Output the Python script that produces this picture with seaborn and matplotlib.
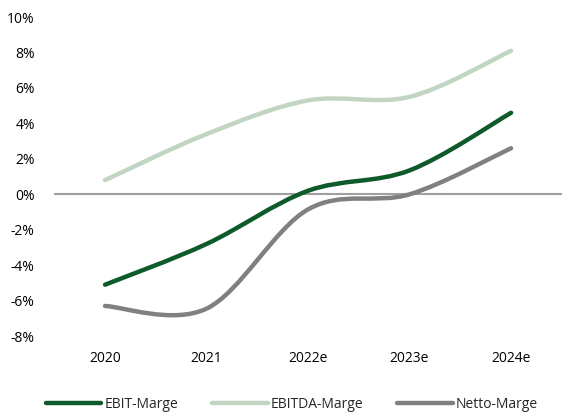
import numpy as np
import seaborn as sns
import matplotlib.pyplot as plt
from matplotlib.path import Path
from matplotlib.patches import PathPatch
from matplotlib.lines import Line2D
from matplotlib.ticker import FuncFormatter

# ── data ─────────────────────────────────────────────
years = ["2020", "2021", "2022e", "2023e", "2024e"]
ebit = [-5.1, -2.8, 0.2, 1.35, 4.6]
ebitda = [0.8, 3.4, 5.3, 5.5, 8.1]
netto = [-6.3, -6.45, -0.85, 0.0, 2.6]
series_names = ["EBIT-Marge", "EBITDA-Marge", "Netto-Marge"]
series_colors = ["#0E5A2B", "#C1D5C2", "#808080"]

sns.set_theme(style="white")
plt.rcParams["font.family"] = ["Open Sans", "DejaVu Sans"]


def smooth_path(xs, ys):
    """Excel-like smoothed line: cubic Bezier through every point."""
    pts = np.column_stack([xs, ys]).astype(float)
    ext = np.vstack([pts[0], pts, pts[-1]])
    verts = [pts[0]]
    codes = [Path.MOVETO]
    for i in range(len(pts) - 1):
        p0, p1, p2, p3 = ext[i], ext[i + 1], ext[i + 2], ext[i + 3]
        verts += [p1 + (p2 - p0) / 6, p2 - (p3 - p1) / 6, p2]
        codes += [Path.CURVE4] * 3
    return Path(verts, codes)


fig, ax = plt.subplots(figsize=(5.84, 4.17), dpi=100)
fig.subplots_adjust(left=0.093, right=0.962, top=0.959, bottom=0.194)

x = np.arange(len(years))
ax.axhline(0, color="#A0A0A0", lw=1.5, zorder=1)
for vals, col in zip([ebit, ebitda, netto], series_colors):
    ax.add_patch(PathPatch(smooth_path(x, vals), fill=False, edgecolor=col,
                           lw=3.2, capstyle="round", joinstyle="round", zorder=2))

ax.set_xlim(-0.5, len(years) - 0.5)
ax.set_ylim(-8, 10)
ax.set_yticks(range(-8, 11, 2))
ax.yaxis.set_major_formatter(FuncFormatter(lambda v, _: f"{v:.0f}%"))
ax.set_xticks(x, years)
ax.tick_params(axis="both", length=0, labelsize=10, colors="#000000")
ax.tick_params(axis="y", pad=14)
ax.tick_params(axis="x", pad=11)
sns.despine(ax=ax, left=True, bottom=True)
ax.grid(False)

handles = [Line2D([], [], color=c, lw=3.2, solid_capstyle="round")
           for c in series_colors]
fig.legend(handles, series_names, loc="lower center", ncol=3, frameon=False,
           bbox_to_anchor=(0.5, -0.018), fontsize=10, handlelength=4.0,
           handletextpad=0.25, columnspacing=2.4)

fig.savefig("out.png", dpi=100)
